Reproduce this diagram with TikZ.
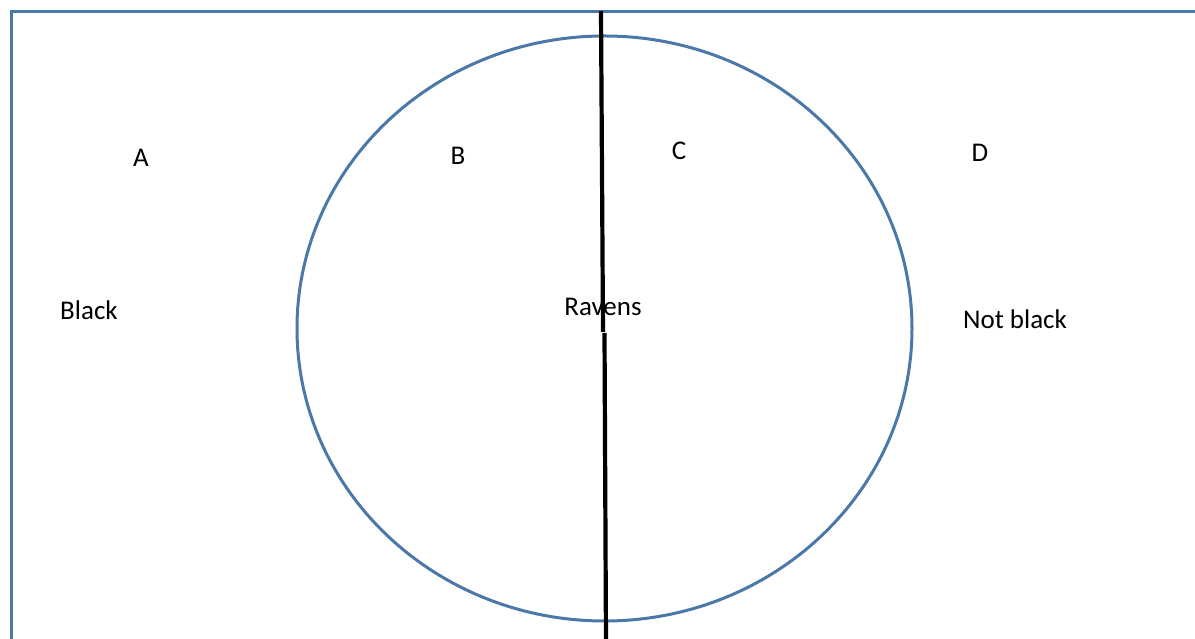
\documentclass[tikz,border=0pt]{standalone}
\usepackage{fontspec}
\usetikzlibrary{shapes.geometric}
\setmainfont{Carlito}
\definecolor{vennblue}{HTML}{4A78A8}
\begin{document}
\begin{tikzpicture}[x=1pt,y=1pt,
  lbl/.style={inner sep=0pt,font=\fontsize{27}{30}\selectfont,text=black},
  outline/.style={draw=vennblue,line width=3pt},
  divider/.style={draw=black,line width=4.2pt}]
\useasboundingbox (0,0) rectangle (1195,639);
\clip (0,0) rectangle (1195,639);
\fill[white] (0,0) rectangle (1195,639);
% universe rectangle (extends beyond the right and bottom edges)
\draw[outline] (11,-20) -- (11,627) -- (1220,627);
% ravens circle
\node[outline,ellipse,minimum width=615pt,minimum height=585pt,inner sep=0pt] (ravens) at (604.5,310.5) {};
% dividing line
\coordinate (t1) at (601,628);
\coordinate (t2) at (603,307);
\coordinate (b1) at (604.5,306);
\coordinate (b2) at (606,-5);
\draw[divider] (t1) -- (t2);
\draw[divider] (b1) -- (b2);
% labels
\node[lbl] (A) at (141,481) {A};
\node[lbl] (B) at (458,483) {B};
\node[lbl] (C) at (679,488) {C};
\node[lbl] (D) at (980,486) {D};
\node[lbl] (black) at (89,329) {Black};
\node[lbl] (rav) at (603,332) {Ravens};
\node[lbl] (notblack) at (1015,320) {Not black};
\end{tikzpicture}
\end{document}
